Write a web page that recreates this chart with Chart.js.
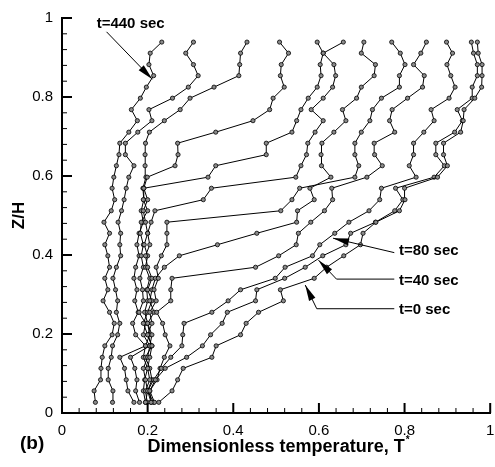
<!DOCTYPE html>
<html>
<head>
<meta charset="utf-8">
<script src="https://cdn.jsdelivr.net/npm/chart.js@4.4.1/dist/chart.umd.min.js"></script>
<style>
  html, body { margin: 0; padding: 0; background: #fff; }
</style>
</head>
<body>
<canvas id="chart" width="495" height="467"></canvas>
<script>
// measurement heights, Z/H (bottom -> top)
const zLevels = [0.027, 0.056, 0.084, 0.113, 0.141, 0.170, 0.198, 0.227, 0.255, 0.284, 0.312,
                 0.341, 0.369, 0.398, 0.426, 0.455, 0.483, 0.512, 0.540, 0.569, 0.597, 0.626,
                 0.654, 0.683, 0.711, 0.740, 0.768, 0.797, 0.825, 0.854, 0.882, 0.911, 0.939];

// dimensionless temperature T* at each level, one profile per time
const tempT0   = [0.226, 0.257, 0.270, 0.283, 0.350, 0.360, 0.417, 0.430, 0.459, 0.517, 0.510,
                  0.589, 0.618, 0.658, 0.697, 0.703, 0.733, 0.788, 0.801, 0.800, 0.877, 0.900,
                  0.891, 0.891, 0.931, 0.937, 0.939, 0.964, 0.980, 0.981, 0.981, 0.972, 0.970];
const tempT40  = [0.208, 0.205, 0.218, 0.241, 0.291, 0.328, 0.347, 0.374, 0.386, 0.452, 0.455,
                  0.520, 0.568, 0.609, 0.663, 0.674, 0.732, 0.777, 0.796, 0.779, 0.869, 0.893,
                  0.873, 0.873, 0.917, 0.935, 0.923, 0.958, 0.958, 0.970, 0.970, 0.961, 0.956];
const tempT80  = [0.195, 0.200, 0.214, 0.232, 0.254, 0.280, 0.282, 0.285, 0.350, 0.388, 0.417,
                  0.498, 0.521, 0.585, 0.602, 0.637, 0.670, 0.717, 0.742, 0.746, 0.827, 0.811,
                  0.821, 0.821, 0.845, 0.869, 0.862, 0.904, 0.918, 0.908, 0.899, 0.912, 0.898];
const tempT120 = [0.216, 0.205, 0.222, 0.229, 0.239, 0.252, 0.241, 0.235, 0.221, 0.254, 0.254,
                  0.257, 0.452, 0.506, 0.547, 0.552, 0.581, 0.613, 0.632, 0.630, 0.712, 0.748,
                  0.730, 0.729, 0.777, 0.765, 0.771, 0.807, 0.842, 0.846, 0.821, 0.838, 0.851];
const tempT160 = [0.199, 0.195, 0.205, 0.200, 0.205, 0.210, 0.200, 0.210, 0.205, 0.220, 0.215,
                  0.225, 0.220, 0.232, 0.245, 0.245, 0.245, 0.511, 0.537, 0.555, 0.684, 0.693,
                  0.684, 0.684, 0.699, 0.719, 0.725, 0.746, 0.788, 0.788, 0.801, 0.790, 0.770];
const tempT200 = [0.214, 0.200, 0.195, 0.190, 0.200, 0.205, 0.210, 0.200, 0.215, 0.205, 0.210,
                  0.218, 0.239, 0.274, 0.363, 0.455, 0.548, 0.550, 0.589, 0.579, 0.628, 0.606,
                  0.605, 0.607, 0.635, 0.663, 0.655, 0.688, 0.699, 0.729, 0.732, 0.699, 0.705];
const tempT240 = [0.208, 0.200, 0.210, 0.205, 0.195, 0.210, 0.200, 0.190, 0.200, 0.210, 0.200,
                  0.210, 0.200, 0.195, 0.205, 0.200, 0.208, 0.217, 0.330, 0.349, 0.546, 0.558,
                  0.571, 0.574, 0.591, 0.610, 0.582, 0.610, 0.632, 0.639, 0.635, 0.610, 0.657];
const tempT280 = [0.195, 0.190, 0.193, 0.200, 0.190, 0.195, 0.205, 0.200, 0.193, 0.200, 0.198,
                  0.205, 0.195, 0.200, 0.192, 0.200, 0.195, 0.190, 0.200, 0.191, 0.341, 0.359,
                  0.477, 0.477, 0.537, 0.548, 0.558, 0.575, 0.596, 0.605, 0.603, 0.610, 0.596];
const tempT320 = [0.181, 0.172, 0.175, 0.170, 0.160, 0.205, 0.190, 0.195, 0.180, 0.190, 0.188,
                  0.182, 0.190, 0.185, 0.190, 0.183, 0.185, 0.200, 0.190, 0.191, 0.199, 0.264,
                  0.271, 0.270, 0.359, 0.446, 0.485, 0.493, 0.519, 0.510, 0.512, 0.529, 0.508];
const tempT360 = [0.168, 0.154, 0.150, 0.146, 0.135, 0.195, 0.172, 0.165, 0.178, 0.170, 0.175,
                  0.168, 0.172, 0.180, 0.175, 0.180, 0.190, 0.185, 0.191, 0.189, 0.196, 0.194,
                  0.194, 0.195, 0.204, 0.239, 0.276, 0.299, 0.355, 0.413, 0.415, 0.417, 0.432];
const tempT400 = [0.118, 0.119, 0.108, 0.108, 0.115, 0.118, 0.130, 0.135, 0.127, 0.130, 0.125,
                  0.119, 0.127, 0.137, 0.135, 0.137, 0.131, 0.139, 0.145, 0.150, 0.156, 0.168,
                  0.148, 0.148, 0.177, 0.210, 0.203, 0.258, 0.295, 0.318, 0.307, 0.289, 0.307];
const tempT440 = [0.078, 0.075, 0.090, 0.091, 0.094, 0.100, 0.117, 0.122, 0.111, 0.096, 0.107,
                  0.100, 0.111, 0.107, 0.100, 0.111, 0.098, 0.115, 0.123, 0.117, 0.121, 0.127,
                  0.133, 0.135, 0.156, 0.176, 0.162, 0.183, 0.197, 0.214, 0.203, 0.206, 0.233];

const times = [0, 40, 80, 120, 160, 200, 240, 280, 320, 360, 400, 440];
const profiles = [tempT0, tempT40, tempT80, tempT120, tempT160, tempT200,
                  tempT240, tempT280, tempT320, tempT360, tempT400, tempT440];

const xTickValues = [0, 0.2, 0.4, 0.6, 0.8, 1];
const yTickValues = [0, 0.2, 0.4, 0.6, 0.8, 1];
const minorPerMajor = 5;

// callouts: text anchor and leader path in data units (last point = arrow tip)
const callouts = [
  { text: 't=440 sec', at: [0.081, 0.985], path: [[0.104, 0.965], [0.211, 0.845]] },
  { text: 't=80 sec',  at: [0.787, 0.410],  path: [[0.776, 0.406], [0.633, 0.4425]] },
  { text: 't=40 sec',  at: [0.787, 0.335],  path: [[0.776, 0.339], [0.641, 0.339], [0.599, 0.387]] },
  { text: 't=0 sec',   at: [0.787, 0.260],  path: [[0.776, 0.264], [0.595, 0.264], [0.568, 0.324]] }
];

const FONT = '"Liberation Sans", Arial, Helvetica, sans-serif';
Chart.defaults.font.family = FONT;
Chart.defaults.color = '#000';

const datasets = profiles.map((vals, i) => ({
  label: 't=' + times[i] + ' sec',
  data: vals.map((v, k) => ({ x: v, y: zLevels[k] })),
  showLine: true,
  borderColor: '#000',
  borderWidth: 1,
  pointRadius: 2.1,
  pointBorderWidth: 0.8,
  pointBorderColor: '#000',
  pointBackgroundColor: '#8a8a8a',
  tension: 0
}));

// 0, 0.2, ..., 1 without trailing zeros
const tickLabel = v => String(Number(v.toFixed(2)));

function drawArrow(ctx, pts) {
  ctx.beginPath();
  ctx.moveTo(pts[0][0], pts[0][1]);
  for (let i = 1; i < pts.length; i++) ctx.lineTo(pts[i][0], pts[i][1]);
  ctx.stroke();
  const [tx, ty] = pts[pts.length - 1];
  const [px, py] = pts[pts.length - 2];
  const a = Math.atan2(ty - py, tx - px);
  const len = 16, half = 3.5;
  const bx = tx - len * Math.cos(a), by = ty - len * Math.sin(a);
  ctx.beginPath();
  ctx.moveTo(tx, ty);
  ctx.lineTo(bx + half * Math.sin(a), by - half * Math.cos(a));
  ctx.lineTo(bx - half * Math.sin(a), by + half * Math.cos(a));
  ctx.closePath();
  ctx.fill();
}

const decorations = {
  id: 'decorations',
  afterDraw(chart) {
    const { ctx, chartArea: area, scales: { x, y } } = chart;
    ctx.save();
    ctx.strokeStyle = '#000';
    ctx.fillStyle = '#000';

    // inward major + minor ticks
    const nMinor = (xTickValues.length - 1) * minorPerMajor;
    for (let i = 0; i <= nMinor; i++) {
      const major = i % minorPerMajor === 0;
      const len = major ? 10 : 5;
      ctx.lineWidth = major ? 2 : 1;
      const vx = xTickValues[0] + (xTickValues[xTickValues.length - 1] - xTickValues[0]) * i / nMinor;
      const vy = yTickValues[0] + (yTickValues[yTickValues.length - 1] - yTickValues[0]) * i / nMinor;
      const px = x.getPixelForValue(vx);
      const py = y.getPixelForValue(vy);
      ctx.beginPath();
      ctx.moveTo(px, area.bottom);
      ctx.lineTo(px, area.bottom - len);
      ctx.moveTo(area.left, py);
      ctx.lineTo(area.left + len, py);
      ctx.stroke();
    }

    // callouts
    ctx.lineWidth = 1;
    ctx.font = 'bold 15px ' + FONT;
    ctx.textBaseline = 'middle';
    ctx.textAlign = 'left';
    callouts.forEach(c => {
      ctx.fillText(c.text, x.getPixelForValue(c.at[0]), y.getPixelForValue(c.at[1]));
      drawArrow(ctx, c.path.map(p => [x.getPixelForValue(p[0]), y.getPixelForValue(p[1])]));
    });

    // superscript star on x title
    ctx.font = 'bold 18px ' + FONT;
    const w = ctx.measureText('Dimensionless temperature, T').width;
    const cx = (x.left + x.right) / 2;
    const ty = x.bottom - 9 - 18 * 1.2 / 2;
    ctx.font = 'bold 10px ' + FONT;
    ctx.fillText('*', cx + w / 2 + 1, ty - 7);

    // panel label
    ctx.font = 'bold 19px ' + FONT;
    ctx.fillText('(b)', 20, 444);
    ctx.restore();
  }
};

new Chart(document.getElementById('chart'), {
  type: 'scatter',
  data: { datasets },
  options: {
    responsive: false,
    animation: false,
    layout: { padding: { left: 0, right: 0, top: 15, bottom: 0 } },
    plugins: { legend: { display: false }, tooltip: { enabled: false } },
    scales: {
      x: {
        min: 0, max: 1,
        grid: { display: false, drawTicks: false },
        border: { display: true, color: '#000', width: 2 },
        ticks: { padding: 9, font: { size: 15 }, color: '#000', callback: tickLabel },
        afterBuildTicks: s => { s.ticks = xTickValues.map(v => ({ value: v })); },
        afterFit: s => { s.height = 54; s.paddingRight = 2; s.paddingLeft = 0; },
        title: {
          display: true, text: 'Dimensionless temperature, T',
          font: { size: 18, weight: 'bold' }, padding: { top: 0, bottom: 9 }, color: '#000'
        }
      },
      y: {
        min: 0, max: 1,
        grid: { display: false, drawTicks: false },
        border: { display: true, color: '#000', width: 2 },
        ticks: { padding: 9, font: { size: 15 }, color: '#000', callback: tickLabel },
        afterBuildTicks: s => { s.ticks = yTickValues.map(v => ({ value: v })); },
        afterFit: s => { s.width = 62; },
        title: {
          display: true, text: 'Z/H',
          font: { size: 17, weight: 'bold' }, padding: { top: 9, bottom: 0 }, color: '#000'
        }
      }
    }
  },
  plugins: [decorations]
});
</script>
</body>
</html>
